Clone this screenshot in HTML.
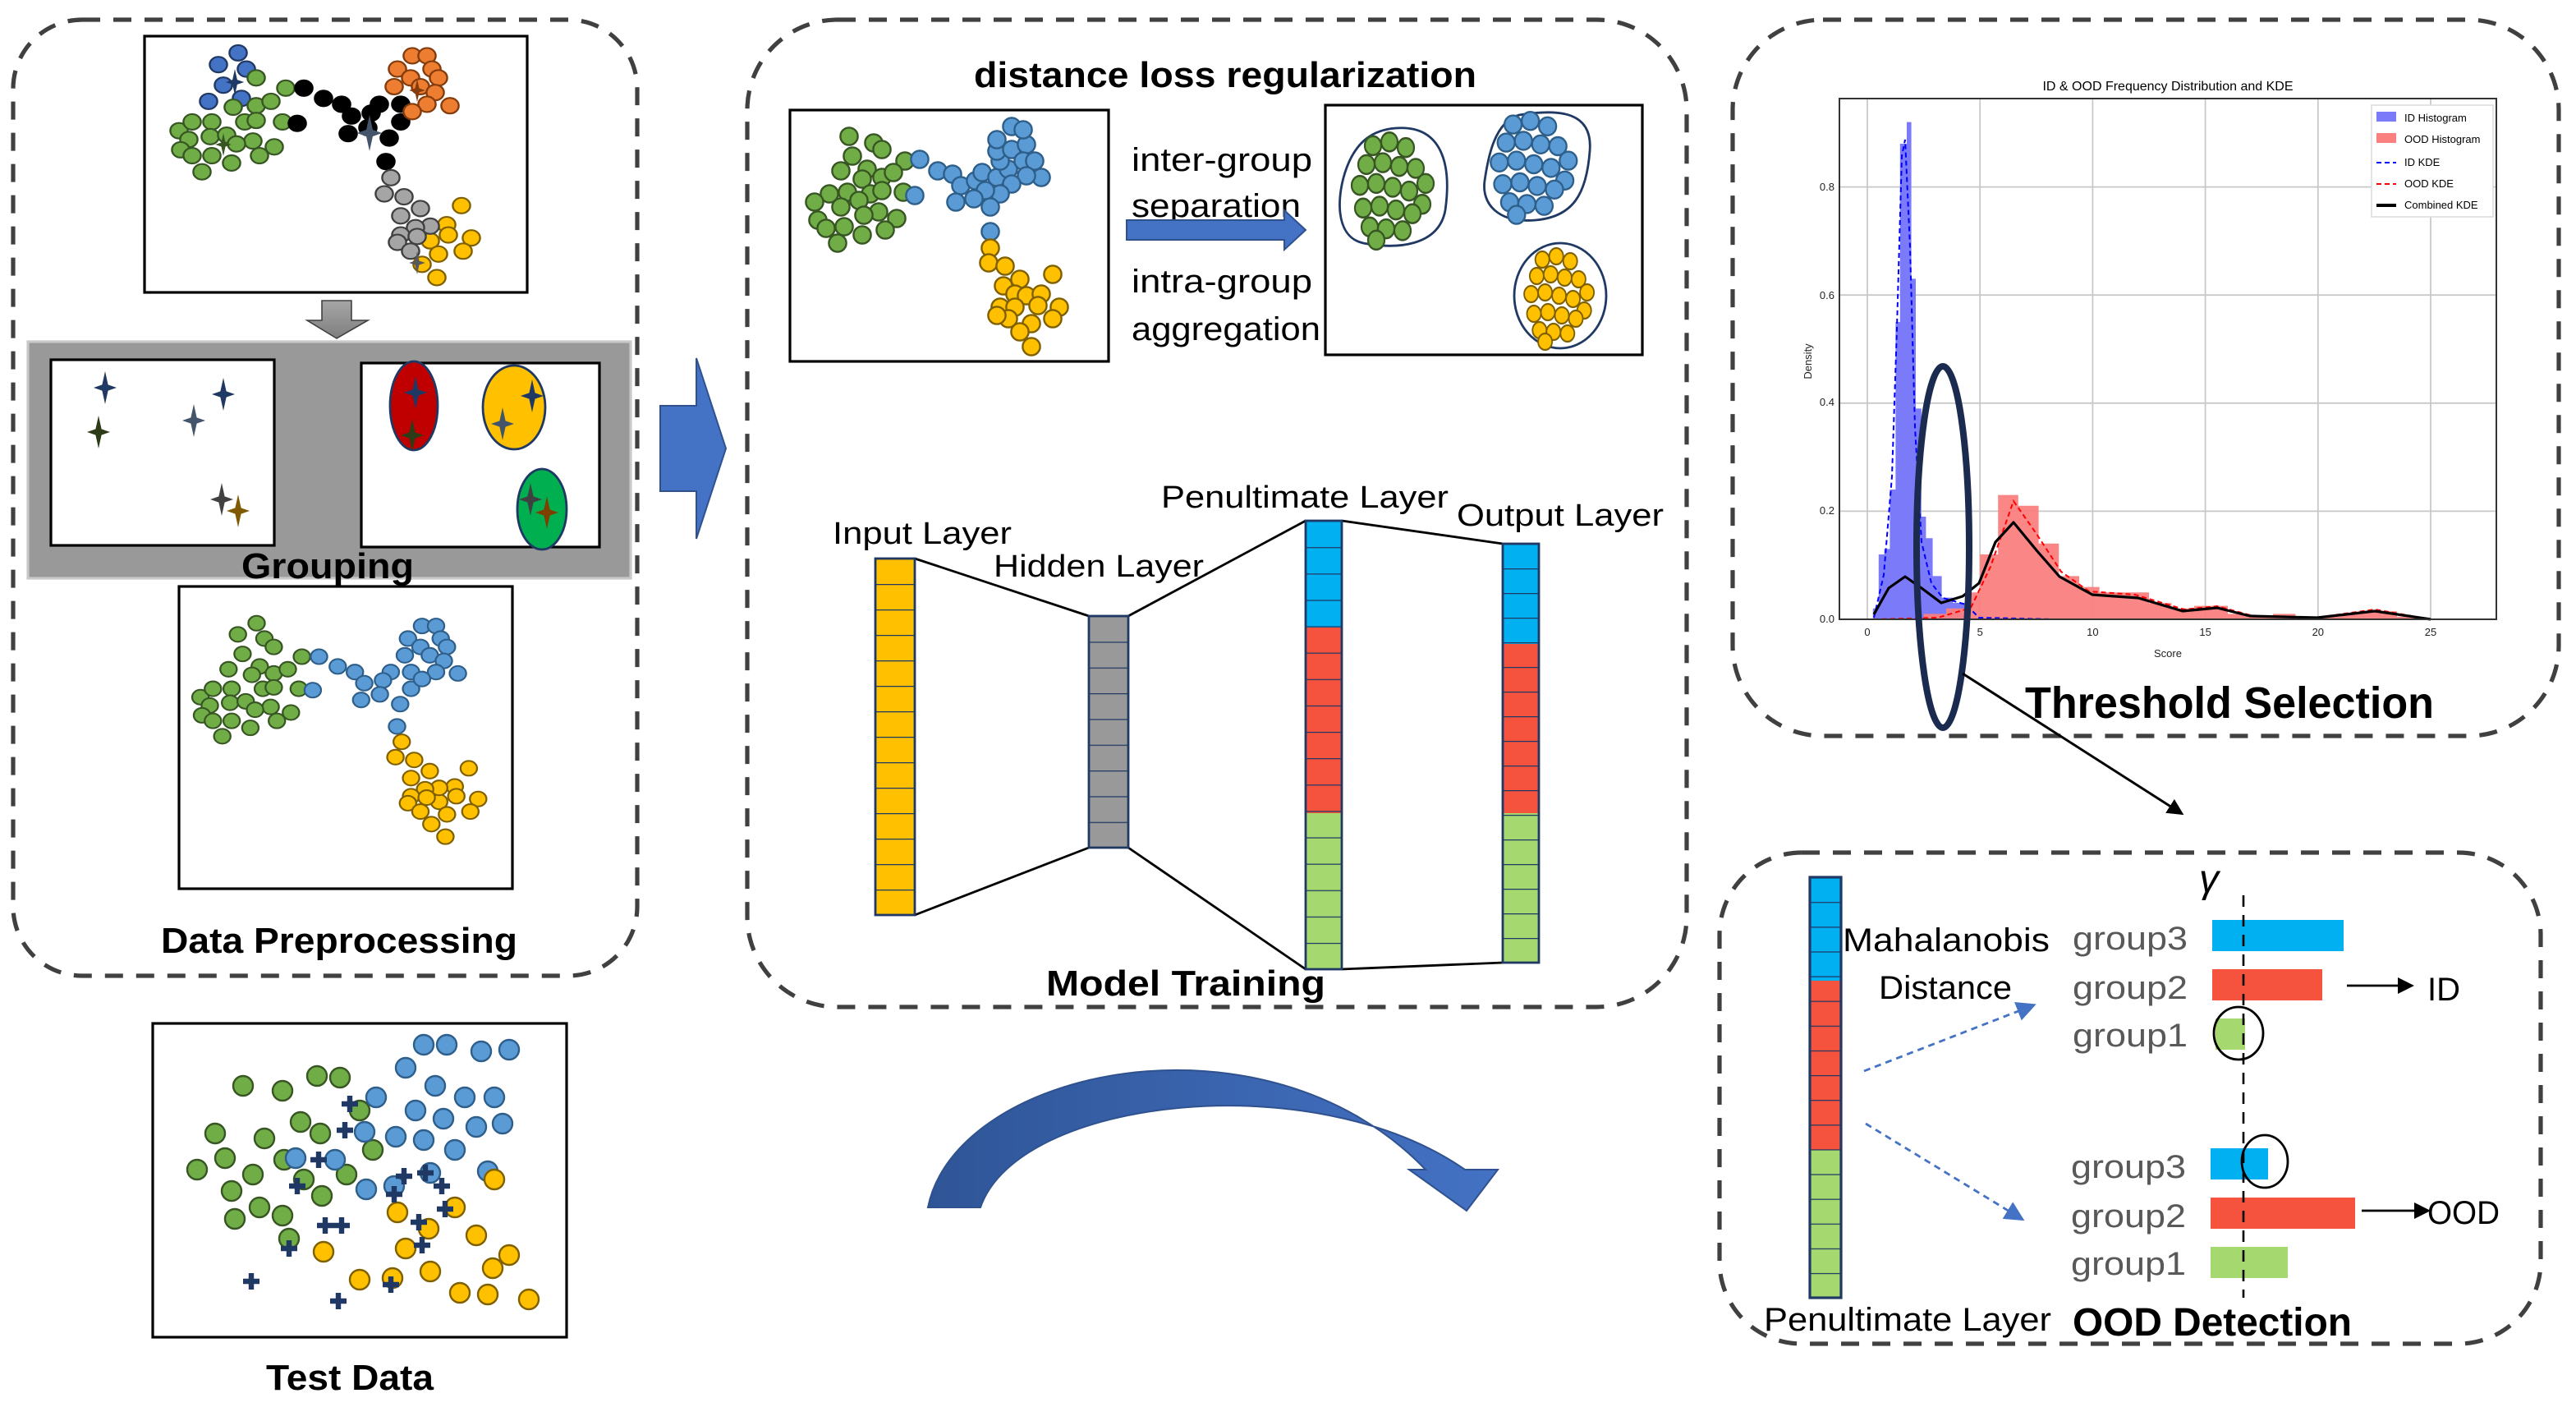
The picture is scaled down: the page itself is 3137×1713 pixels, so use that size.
<!DOCTYPE html>
<html><head><meta charset="utf-8"><style>
html,body{margin:0;padding:0;background:#fff}
svg{display:block}
text{font-family:"Liberation Sans",sans-serif}
.b{font-weight:bold}
</style></head><body>
<svg width="3137" height="1713" viewBox="0 0 1568.5 856.5" xmlns="http://www.w3.org/2000/svg">
<defs>
<linearGradient id="ga" x1="0" y1="0" x2="0" y2="1"><stop offset="0" stop-color="#a6a6a6"/><stop offset="1" stop-color="#7f7f7f"/></linearGradient>
<linearGradient id="gc" x1="0" y1="0" x2="1" y2="0"><stop offset="0" stop-color="#2f5597"/><stop offset="1" stop-color="#4472c4"/></linearGradient>
<path id="star" d="M0,-10 L1.8,-1.8 L7,0 L1.8,1.8 L0,10 L-1.8,1.8 L-7,0 L-1.8,-1.8Z"/>
<path id="cross" d="M-1.6,-5h3.2v3.4h3.4v3.2h-3.4v3.4h-3.2v-3.4h-3.4v-3.2h3.4z"/>
<pattern id="p1" patternUnits="userSpaceOnUse" x="0" y="340" width="50" height="15.5"><line x1="0" y1="0" x2="50" y2="0" stroke="#1f3864" stroke-width="1.2"/></pattern>
<pattern id="p2" patternUnits="userSpaceOnUse" x="0" y="375" width="50" height="15.67"><line x1="0" y1="0" x2="50" y2="0" stroke="#1f3864" stroke-width="1.2"/></pattern>
<pattern id="p3" patternUnits="userSpaceOnUse" x="0" y="317" width="50" height="16.06"><line x1="0" y1="0" x2="50" y2="0" stroke="#1f3864" stroke-width="1.2"/></pattern>
<pattern id="p4" patternUnits="userSpaceOnUse" x="0" y="331" width="50" height="15.0"><line x1="0" y1="0" x2="50" y2="0" stroke="#1f3864" stroke-width="1.2"/></pattern>
<pattern id="p5" patternUnits="userSpaceOnUse" x="0" y="534" width="50" height="15.06"><line x1="0" y1="0" x2="50" y2="0" stroke="#1f3864" stroke-width="1.2"/></pattern>
<marker id="ah" markerWidth="10" markerHeight="10" refX="8" refY="5" orient="auto" markerUnits="userSpaceOnUse"><path d="M0,0 L10,5 L0,10Z" fill="#000"/></marker>
<marker id="ahb" markerWidth="12" markerHeight="12" refX="10" refY="6" orient="auto" markerUnits="userSpaceOnUse"><path d="M0,0 L12,6 L0,12Z" fill="#4472c4"/></marker>

<g id="clu" stroke-width="1.2">
 <g transform="matrix(1,0,0,0.894,0,0)">
 <g style="fill:var(--cb);stroke:var(--sb)">
  <circle cx="145" cy="36" r="5.3"/><circle cx="133" cy="44" r="5.3"/><circle cx="150" cy="47" r="5.3"/><circle cx="136" cy="58" r="5.3"/><circle cx="127" cy="69" r="5.3"/><circle cx="147" cy="67" r="5.3"/>
 </g>
 <g style="fill:var(--cg);stroke:var(--sg)">
  <circle cx="156" cy="53" r="5.3"/><circle cx="174" cy="60" r="5.3"/><circle cx="142" cy="73" r="5.3"/><circle cx="156" cy="72" r="5.3"/><circle cx="165" cy="69" r="5.3"/><circle cx="109" cy="89" r="5.3"/><circle cx="117" cy="83" r="5.3"/><circle cx="129" cy="83" r="5.3"/><circle cx="149" cy="83" r="5.3"/><circle cx="156" cy="82" r="5.3"/><circle cx="172" cy="83" r="5.3"/><circle cx="128" cy="93" r="5.3"/><circle cx="115" cy="95" r="5.3"/><circle cx="138" cy="92" r="5.3"/><circle cx="154" cy="96" r="5.3"/><circle cx="144" cy="98" r="5.3"/><circle cx="167" cy="100" r="5.3"/><circle cx="110" cy="102" r="5.3"/><circle cx="117" cy="106" r="5.3"/><circle cx="129" cy="106" r="5.3"/><circle cx="141" cy="111" r="5.3"/><circle cx="158" cy="106" r="5.3"/><circle cx="123" cy="117" r="5.3"/>
 </g>
 <g style="fill:var(--ck);stroke:var(--sk)">
  <circle cx="185" cy="60" r="5.3"/><circle cx="197" cy="67" r="5.3"/><circle cx="208" cy="71" r="5.3"/><circle cx="231" cy="71" r="5.3"/><circle cx="244" cy="71" r="5.3"/><circle cx="214" cy="79" r="5.3"/><circle cx="226" cy="77" r="5.3"/><circle cx="244" cy="83" r="5.3"/><circle cx="212" cy="91" r="5.3"/><circle cx="224" cy="87" r="5.3"/><circle cx="237" cy="94" r="5.3"/><circle cx="181" cy="84" r="5.3"/><circle cx="235" cy="110" r="5.3"/>
 </g>
 <g style="fill:var(--co);stroke:var(--so)">
  <circle cx="251" cy="38" r="5.3"/><circle cx="260" cy="38" r="5.3"/><circle cx="242" cy="47" r="5.3"/><circle cx="263" cy="47" r="5.3"/><circle cx="267" cy="53" r="5.3"/><circle cx="250" cy="53" r="5.3"/><circle cx="240" cy="59" r="5.3"/><circle cx="256" cy="59" r="5.3"/><circle cx="265" cy="63" r="5.3"/><circle cx="274" cy="72" r="5.3"/><circle cx="260" cy="71" r="5.3"/><circle cx="251" cy="76" r="5.3"/>
 </g>
 <g style="fill:var(--cw);stroke:var(--sw)">
  <circle cx="281" cy="140" r="5.3"/><circle cx="272" cy="153" r="5.3"/><circle cx="273" cy="160" r="5.3"/><circle cx="287" cy="162" r="5.3"/><circle cx="262" cy="164" r="5.3"/><circle cx="282" cy="171" r="5.3"/><circle cx="267" cy="173" r="5.3"/><circle cx="257" cy="180" r="5.3"/><circle cx="266" cy="189" r="5.3"/>
 </g>
 <g style="fill:var(--cy);stroke:var(--sy)">
  <circle cx="238" cy="121" r="5.3"/><circle cx="234" cy="132" r="5.3"/><circle cx="246" cy="134" r="5.3"/><circle cx="256" cy="142" r="5.3"/><circle cx="244" cy="147" r="5.3"/><circle cx="262" cy="154" r="5.3"/><circle cx="253" cy="155" r="5.3"/><circle cx="244" cy="160" r="5.3"/><circle cx="254" cy="161" r="5.3"/><circle cx="242" cy="165" r="5.3"/><circle cx="250" cy="171" r="5.3"/>
 </g>
 </g>
</g>

<g id="blob" stroke-width="1.1">
 <circle cx="-14" cy="-22" r="5"/><circle cx="-4" cy="-24" r="5"/><circle cx="6" cy="-21" r="5"/><circle cx="-18" cy="-12" r="5"/><circle cx="-8" cy="-13" r="5"/><circle cx="2" cy="-11" r="5"/><circle cx="12" cy="-10" r="5"/><circle cx="18" cy="-2" r="5"/><circle cx="-22" cy="-1" r="5"/><circle cx="-12" cy="-2" r="5"/><circle cx="-2" cy="0" r="5"/><circle cx="8" cy="2" r="5"/><circle cx="16" cy="9" r="5"/><circle cx="-20" cy="11" r="5"/><circle cx="-10" cy="10" r="5"/><circle cx="0" cy="12" r="5"/><circle cx="10" cy="14" r="5"/><circle cx="-16" cy="21" r="5"/><circle cx="-6" cy="22" r="5"/><circle cx="4" cy="23" r="5"/><circle cx="-12" cy="28" r="5"/>
</g>
</defs>

<!-- ===== Panel 1 ===== -->
<rect x="8" y="12" width="380" height="582" rx="42" fill="none" stroke="#404040" stroke-width="2.6" stroke-dasharray="11 8"/>
<rect x="88" y="22" width="233" height="156" fill="#fff" stroke="#000" stroke-width="1.6"/>
<use href="#clu" style="--cb:#4472c4;--sb:#203864;--cg:#70ad47;--sg:#375623;--ck:#000;--sk:#000;--co:#ed7d31;--so:#843c0c;--cw:#ffc000;--sw:#7f6000;--cy:#a5a5a5;--sy:#404040"/>
<use href="#star" transform="translate(143,50) scale(0.8)" fill="#203864"/>
<use href="#star" transform="translate(225,81) scale(1.1)" fill="#44546a"/>
<use href="#star" transform="translate(136,88) scale(0.7)" fill="#375623"/>
<use href="#star" transform="translate(254,55) scale(0.7)" fill="#843c0c"/>
<use href="#star" transform="translate(254,160) scale(0.7)" fill="#595959"/>
<path d="M196,183 H214 V195 H224 L205,206 L187,195 H196Z" fill="url(#ga)" stroke="#404040" stroke-width="0.8"/>
<rect x="17" y="208" width="367" height="144" fill="#999" stroke="#c8c8c8" stroke-width="1.6"/>
<rect x="31" y="219" width="136" height="113" fill="#fff" stroke="#000" stroke-width="1.6"/>
<rect x="220" y="221" width="145" height="112" fill="#fff" stroke="#000" stroke-width="1.6"/>
<use href="#star" transform="translate(64,236)" fill="#1f3864"/>
<use href="#star" transform="translate(60,263)" fill="#2d3b17"/>
<use href="#star" transform="translate(136,240)" fill="#1f3864"/>
<use href="#star" transform="translate(118,256)" fill="#44546a"/>
<use href="#star" transform="translate(135,304)" fill="#404040"/>
<use href="#star" transform="translate(145,311)" fill="#7f5a00"/>
<ellipse cx="252" cy="247" rx="14.5" ry="27" fill="#c00000" stroke="#1f3864" stroke-width="1.4"/>
<ellipse cx="313" cy="248" rx="19" ry="25.5" fill="#ffc000" stroke="#1f3864" stroke-width="1.4"/>
<ellipse cx="330" cy="310" rx="15" ry="24.5" fill="#00b050" stroke="#1f3864" stroke-width="1.4"/>
<use href="#star" transform="translate(253,239)" fill="#1f3864"/>
<use href="#star" transform="translate(251,265)" fill="#2d3b17"/>
<use href="#star" transform="translate(324,241)" fill="#1f3864"/>
<use href="#star" transform="translate(306,258)" fill="#44546a"/>
<use href="#star" transform="translate(323,304)" fill="#404040"/>
<use href="#star" transform="translate(333,312)" fill="#7f3f00"/>
<text x="147" y="352" font-size="22" class="b" textLength="105" lengthAdjust="spacingAndGlyphs">Grouping</text>
<path d="M190,362 H208 V373 H217 L199,384 L181,373 H190Z" fill="url(#ga)" stroke="#404040" stroke-width="0.8"/>
<rect x="109" y="357" width="203" height="184" fill="#fff" stroke="#000" stroke-width="1.6"/>
<use href="#clu" transform="translate(18.5,348.8) scale(0.95)" style="--cb:#70ad47;--sb:#375623;--cg:#70ad47;--sg:#375623;--ck:#5b9bd5;--sk:#2e5f8a;--co:#5b9bd5;--so:#2e5f8a;--cw:#ffc000;--sw:#7f6000;--cy:#ffc000;--sy:#7f6000"/>
<text x="98" y="580" font-size="22" class="b" textLength="217" lengthAdjust="spacingAndGlyphs">Data Preprocessing</text>

<!-- Test data -->
<rect x="93" y="623" width="252" height="191" fill="#fff" stroke="#000" stroke-width="1.6"/>
<g fill="#70ad47" stroke="#375623" stroke-width="1.2">
<circle cx="148" cy="661" r="6"/><circle cx="172" cy="664" r="6"/><circle cx="193" cy="655" r="6"/><circle cx="207" cy="656" r="6"/><circle cx="131" cy="690" r="6"/><circle cx="161" cy="693" r="6"/><circle cx="183" cy="683" r="6"/><circle cx="195" cy="690" r="6"/><circle cx="137" cy="705" r="6"/><circle cx="154" cy="715" r="6"/><circle cx="173" cy="706" r="6"/><circle cx="120" cy="712" r="6"/><circle cx="141" cy="725" r="6"/><circle cx="158" cy="735" r="6"/><circle cx="185" cy="718" r="6"/><circle cx="196" cy="728" r="6"/><circle cx="172" cy="740" r="6"/><circle cx="143" cy="742" r="6"/><circle cx="219" cy="676" r="6"/><circle cx="227" cy="700" r="6"/><circle cx="211" cy="715" r="6"/><circle cx="176" cy="754" r="6"/>
</g>
<g fill="#5b9bd5" stroke="#2e5f8a" stroke-width="1.2">
<circle cx="258" cy="636" r="6"/><circle cx="272" cy="636" r="6"/><circle cx="293" cy="640" r="6"/><circle cx="310" cy="639" r="6"/><circle cx="247" cy="650" r="6"/><circle cx="265" cy="661" r="6"/><circle cx="283" cy="668" r="6"/><circle cx="301" cy="668" r="6"/><circle cx="229" cy="668" r="6"/><circle cx="253" cy="676" r="6"/><circle cx="270" cy="681" r="6"/><circle cx="290" cy="686" r="6"/><circle cx="306" cy="684" r="6"/><circle cx="222" cy="689" r="6"/><circle cx="241" cy="692" r="6"/><circle cx="258" cy="694" r="6"/><circle cx="277" cy="700" r="6"/><circle cx="297" cy="713" r="6"/><circle cx="204" cy="706" r="6"/><circle cx="223" cy="724" r="6"/><circle cx="240" cy="722" r="6"/><circle cx="180" cy="705" r="6"/><circle cx="262" cy="714" r="6"/>
</g>
<g fill="#ffc000" stroke="#7f6000" stroke-width="1.2">
<circle cx="301" cy="718" r="6"/><circle cx="242" cy="738" r="6"/><circle cx="277" cy="735" r="6"/><circle cx="261" cy="748" r="6"/><circle cx="290" cy="752" r="6"/><circle cx="310" cy="764" r="6"/><circle cx="197" cy="762" r="6"/><circle cx="239" cy="778" r="6"/><circle cx="262" cy="774" r="6"/><circle cx="280" cy="787" r="6"/><circle cx="297" cy="788" r="6"/><circle cx="322" cy="791" r="6"/><circle cx="219" cy="779" r="6"/><circle cx="300" cy="772" r="6"/><circle cx="247" cy="760" r="6"/>
</g>
<g fill="#203864">
<use href="#cross" x="210" y="688"/><use href="#cross" x="213" y="672"/><use href="#cross" x="194" y="706"/><use href="#cross" x="181" y="722"/><use href="#cross" x="198" y="746"/><use href="#cross" x="208" y="746"/><use href="#cross" x="176" y="760"/><use href="#cross" x="246" y="716"/><use href="#cross" x="259" y="714"/><use href="#cross" x="269" y="722"/><use href="#cross" x="255" y="744"/><use href="#cross" x="271" y="736"/><use href="#cross" x="257" y="758"/><use href="#cross" x="153" y="780"/><use href="#cross" x="206" y="792"/><use href="#cross" x="238" y="782"/><use href="#cross" x="240" y="727"/>
</g>
<text x="162" y="846" font-size="22" class="b" textLength="102" lengthAdjust="spacingAndGlyphs">Test Data</text>

<path d="M402,247 H424 V218 L442,273 L424,328 V299 H402Z" fill="#4472c4" stroke="#2f528f" stroke-width="1"/>

<!-- ===== Panel 2 ===== -->
<rect x="455" y="12" width="572" height="601" rx="55" fill="none" stroke="#404040" stroke-width="2.6" stroke-dasharray="11 8"/>
<text x="593" y="53" font-size="22" class="b" textLength="306" lengthAdjust="spacingAndGlyphs">distance loss regularization</text>
<rect x="481" y="67" width="194" height="153" fill="#fff" stroke="#000" stroke-width="1.6"/>
<g fill="#70ad47" stroke="#375623" stroke-width="1.2">
<circle cx="517" cy="83" r="5.3"/><circle cx="532" cy="87" r="5.3"/><circle cx="519" cy="95" r="5.3"/><circle cx="537" cy="91" r="5.3"/><circle cx="551" cy="98" r="5.3"/><circle cx="512" cy="104" r="5.3"/><circle cx="528" cy="103" r="5.3"/><circle cx="537" cy="108" r="5.3"/><circle cx="544" cy="105" r="5.3"/><circle cx="525" cy="109" r="5.3"/><circle cx="505" cy="118" r="5.3"/><circle cx="516" cy="117" r="5.3"/><circle cx="530" cy="118" r="5.3"/><circle cx="537" cy="116" r="5.3"/><circle cx="496" cy="123" r="5.3"/><circle cx="512" cy="126" r="5.3"/><circle cx="523" cy="122" r="5.3"/><circle cx="535" cy="129" r="5.3"/><circle cx="498" cy="134" r="5.3"/><circle cx="514" cy="138" r="5.3"/><circle cx="526" cy="131" r="5.3"/><circle cx="546" cy="133" r="5.3"/><circle cx="503" cy="139" r="5.3"/><circle cx="525" cy="143" r="5.3"/><circle cx="539" cy="140" r="5.3"/><circle cx="510" cy="148" r="5.3"/><circle cx="550" cy="117" r="5.3"/>
</g>
<g fill="#5b9bd5" stroke="#2e5f8a" stroke-width="1.2">
<circle cx="560" cy="97" r="5.3"/><circle cx="571" cy="104" r="5.3"/><circle cx="580" cy="106" r="5.3"/><circle cx="585" cy="113" r="5.3"/><circle cx="594" cy="110" r="5.3"/><circle cx="598" cy="105" r="5.3"/><circle cx="607" cy="108" r="5.3"/><circle cx="614" cy="103" r="5.3"/><circle cx="609" cy="98" r="5.3"/><circle cx="607" cy="92" r="5.3"/><circle cx="616" cy="91" r="5.3"/><circle cx="625" cy="88" r="5.3"/><circle cx="623" cy="98" r="5.3"/><circle cx="630" cy="98" r="5.3"/><circle cx="634" cy="108" r="5.3"/><circle cx="625" cy="107" r="5.3"/><circle cx="616" cy="112" r="5.3"/><circle cx="609" cy="118" r="5.3"/><circle cx="600" cy="116" r="5.3"/><circle cx="593" cy="121" r="5.3"/><circle cx="582" cy="123" r="5.3"/><circle cx="603" cy="126" r="5.3"/><circle cx="616" cy="77" r="5.3"/><circle cx="623" cy="79" r="5.3"/><circle cx="607" cy="85" r="5.3"/><circle cx="557" cy="119" r="5.3"/><circle cx="603" cy="141" r="5.3"/>
</g>
<g fill="#ffc000" stroke="#7f6000" stroke-width="1.2">
<circle cx="603" cy="151" r="5.3"/><circle cx="602" cy="160" r="5.3"/><circle cx="612" cy="162" r="5.3"/><circle cx="621" cy="170" r="5.3"/><circle cx="641" cy="167" r="5.3"/><circle cx="611" cy="174" r="5.3"/><circle cx="618" cy="179" r="5.3"/><circle cx="625" cy="180" r="5.3"/><circle cx="634" cy="179" r="5.3"/><circle cx="609" cy="187" r="5.3"/><circle cx="618" cy="187" r="5.3"/><circle cx="632" cy="186" r="5.3"/><circle cx="645" cy="187" r="5.3"/><circle cx="614" cy="194" r="5.3"/><circle cx="628" cy="197" r="5.3"/><circle cx="641" cy="194" r="5.3"/><circle cx="621" cy="202" r="5.3"/><circle cx="628" cy="211" r="5.3"/><circle cx="607" cy="192" r="5.3"/>
</g>
<text x="689" y="104" font-size="20" textLength="110" lengthAdjust="spacingAndGlyphs">inter-group</text>
<text x="689" y="132" font-size="20" textLength="103" lengthAdjust="spacingAndGlyphs">separation</text>
<path d="M686,134 H782 V128 L795,140 L782,152 V146 H686Z" fill="#4472c4" stroke="#2f528f" stroke-width="1"/>
<text x="689" y="178" font-size="20" textLength="110" lengthAdjust="spacingAndGlyphs">intra-group</text>
<text x="689" y="207" font-size="20" textLength="115" lengthAdjust="spacingAndGlyphs">aggregation</text>
<rect x="807" y="64" width="193" height="152" fill="#fff" stroke="#000" stroke-width="1.6"/>
<path d="M850,78 C878,76 884,100 880,128 C876,150 850,152 830,148 C812,144 814,118 820,102 C826,86 836,79 850,78Z" fill="none" stroke="#1f3864" stroke-width="1.4"/>
<path d="M925,70 C950,66 970,68 968,92 C966,118 958,132 935,134 C912,136 902,124 904,110 C906,96 910,74 925,70Z" fill="none" stroke="#1f3864" stroke-width="1.4"/>
<ellipse cx="950" cy="180" rx="28" ry="32" fill="none" stroke="#1f3864" stroke-width="1.4"/>
<use href="#blob" transform="translate(850,114) scale(1,1.15)" fill="#70ad47" stroke="#375623"/>
<use href="#blob" transform="translate(936,100) scale(1.05,1.1)" fill="#5b9bd5" stroke="#2e5f8a"/>
<use href="#blob" transform="translate(951,180) scale(0.85,1)" fill="#ffc000" stroke="#7f6000"/>

<g stroke="#000" stroke-width="1.4" fill="none">
<line x1="557" y1="340" x2="663" y2="375"/><line x1="557" y1="557" x2="663" y2="516"/>
<line x1="687" y1="375" x2="795" y2="317"/><line x1="687" y1="516" x2="795" y2="590"/>
<line x1="817" y1="317" x2="915" y2="331"/><line x1="817" y1="590" x2="915" y2="586"/>
</g>
<rect x="533" y="340" width="24" height="217" fill="#ffc000"/>
<rect x="533" y="340" width="24" height="217" fill="url(#p1)" stroke="#1f3864" stroke-width="1.4"/>
<rect x="663" y="375" width="24" height="141" fill="#999"/>
<rect x="663" y="375" width="24" height="141" fill="url(#p2)" stroke="#1f3864" stroke-width="1.4"/>
<rect x="795" y="317" width="22" height="65" fill="#00b0f0"/>
<rect x="795" y="382" width="22" height="113" fill="#f5533d"/>
<rect x="795" y="495" width="22" height="95" fill="#a5d86e"/>
<rect x="795" y="317" width="22" height="273" fill="url(#p3)" stroke="#1f3864" stroke-width="1.4"/>
<rect x="915" y="331" width="22" height="61" fill="#00b0f0"/>
<rect x="915" y="392" width="22" height="103" fill="#f5533d"/>
<rect x="915" y="495" width="22" height="91" fill="#a5d86e"/>
<rect x="915" y="331" width="22" height="255" fill="url(#p4)" stroke="#1f3864" stroke-width="1.4"/>
<text x="507" y="331" font-size="19" textLength="109" lengthAdjust="spacingAndGlyphs">Input Layer</text>
<text x="605" y="351" font-size="19" textLength="128" lengthAdjust="spacingAndGlyphs">Hidden Layer</text>
<text x="707" y="309" font-size="19" textLength="175" lengthAdjust="spacingAndGlyphs">Penultimate Layer</text>
<text x="887" y="320" font-size="19" textLength="126" lengthAdjust="spacingAndGlyphs">Output Layer</text>
<text x="637" y="606" font-size="22" class="b" textLength="170" lengthAdjust="spacingAndGlyphs">Model Training</text>

<!-- curved arrow -->
<path d="M565,735 C582,650 770,610 868,712 L858,712 L893,737 L912,712 L892,712 C800,648 620,668 597,735Z" fill="url(#gc)" stroke="#2f528f" stroke-width="1"/>

<!-- ===== Panel 3 ===== -->
<rect x="1055" y="12" width="503" height="436" rx="55" fill="none" stroke="#404040" stroke-width="2.6" stroke-dasharray="11 8"/>
<text x="1320" y="55" font-size="8" text-anchor="middle">ID &amp; OOD Frequency Distribution and KDE</text>
<g stroke="#c8c8c8" stroke-width="0.9">
<line x1="1137" y1="60" x2="1137" y2="377"/><line x1="1205.6" y1="60" x2="1205.6" y2="377"/><line x1="1274.2" y1="60" x2="1274.2" y2="377"/><line x1="1342.8" y1="60" x2="1342.8" y2="377"/><line x1="1411.4" y1="60" x2="1411.4" y2="377"/><line x1="1480" y1="60" x2="1480" y2="377"/>
<line x1="1120" y1="311.2" x2="1520" y2="311.2"/><line x1="1120" y1="245.4" x2="1520" y2="245.4"/><line x1="1120" y1="179.6" x2="1520" y2="179.6"/><line x1="1120" y1="113.8" x2="1520" y2="113.8"/>
</g>
<path d="M1140.4,377 V370.4 H1143.9 V337.5 H1147.3 V334.2 H1150.7 V298 H1154.2 V196 H1156.9 V87.5 H1161 V74.3 H1163.8 V169.7 H1166.5 V248.7 H1169.9 V314.5 H1172.7 V327.6 H1176.8 V350.7 H1182.3 V363.8 H1189.1 V367 H1200.1 V377 Z" fill="#7b7bfa"/>
<path d="M1171.3,377 V373.7 H1185 V370.4 H1198.7 V360.6 H1205.6 V337.5 H1216.6 V301.3 H1228.9 V307.9 H1241.3 V330.9 H1253.6 V350.7 H1266 V357.3 H1278.3 V360.6 H1308.5 V367.1 H1322.2 V370.4 H1336 V368.8 H1356.5 V373.7 H1370.2 V375.4 H1384 V373.7 H1397.7 V375.4 H1425.1 V373.7 H1438.8 V372.1 H1459.4 V375.4 H1473.1 V377Z" fill="#fa7f7f" fill-opacity="0.95"/>
<polyline points="1141,376 1147,350 1152,290 1155,200 1158,95 1160,85 1163,150 1166,260 1170,330 1176,355 1183,364 1190,366 1197,368 1205,376 1250,377 1480,377" fill="none" stroke="#0000ff" stroke-width="1" stroke-dasharray="3 2"/>
<polyline points="1141,377 1180,376 1200,370 1212,345 1226,305 1240,325 1255,348 1272,360 1300,362 1330,371 1350,369 1372,375 1410,376 1446,371 1480,377" fill="none" stroke="#ff0000" stroke-width="1" stroke-dasharray="3 2"/>
<polyline points="1141,374 1150,358 1160,351 1170,358 1182,367 1195,363 1205,355 1215,330 1226,318 1240,335 1254,351 1274,362 1302,364 1329,372 1350,370 1370,375 1411,376 1446,372 1480,377" fill="none" stroke="#000" stroke-width="1.6" stroke-linejoin="round"/>
<rect x="1120" y="60" width="400" height="317" fill="none" stroke="#333" stroke-width="1"/>
<g font-size="6.5" fill="#222">
<text x="1137" y="387" text-anchor="middle">0</text><text x="1205.6" y="387" text-anchor="middle">5</text><text x="1274.2" y="387" text-anchor="middle">10</text><text x="1342.8" y="387" text-anchor="middle">15</text><text x="1411.4" y="387" text-anchor="middle">20</text><text x="1480" y="387" text-anchor="middle">25</text>
<text x="1117" y="379" text-anchor="end">0.0</text><text x="1117" y="313" text-anchor="end">0.2</text><text x="1117" y="247" text-anchor="end">0.4</text><text x="1117" y="182" text-anchor="end">0.6</text><text x="1117" y="116" text-anchor="end">0.8</text>
<text x="1320" y="400" text-anchor="middle">Score</text>
<text transform="translate(1103,220) rotate(-90)" text-anchor="middle">Density</text>
</g>
<rect x="1444" y="64" width="74" height="68" fill="#fff" stroke="#ddd" stroke-width="0.8"/>
<rect x="1447" y="68" width="12" height="6" fill="#7b7bfa"/><rect x="1447" y="81" width="12" height="6" fill="#fa7f7f"/>
<line x1="1447" y1="99" x2="1459" y2="99" stroke="#00f" stroke-dasharray="3 2"/><line x1="1447" y1="112" x2="1459" y2="112" stroke="#f00" stroke-dasharray="3 2"/><line x1="1447" y1="125" x2="1459" y2="125" stroke="#000" stroke-width="2"/>
<g font-size="6.5"><text x="1464" y="74">ID Histogram</text><text x="1464" y="87">OOD Histogram</text><text x="1464" y="101">ID KDE</text><text x="1464" y="114">OOD KDE</text><text x="1464" y="127">Combined KDE</text></g>
<ellipse cx="1183" cy="333" rx="16" ry="110" fill="none" stroke="#1a2b4f" stroke-width="4"/>
<text x="1233" y="437" font-size="27" class="b" textLength="249" lengthAdjust="spacingAndGlyphs">Threshold Selection</text>
<line x1="1195" y1="410" x2="1328" y2="495" stroke="#000" stroke-width="1.5" marker-end="url(#ah)"/>

<!-- ===== Panel 4 ===== -->
<rect x="1047" y="519" width="500" height="299" rx="50" fill="none" stroke="#404040" stroke-width="2.6" stroke-dasharray="11 8"/>
<rect x="1102" y="534" width="19" height="63" fill="#00b0f0"/>
<rect x="1102" y="597" width="19" height="103" fill="#f5533d"/>
<rect x="1102" y="700" width="19" height="90" fill="#a5d86e"/>
<rect x="1102" y="534" width="19" height="256" fill="url(#p5)" stroke="#1f3864" stroke-width="1.6"/>
<text x="1122" y="579" font-size="20" textLength="126" lengthAdjust="spacingAndGlyphs">Mahalanobis</text>
<text x="1144" y="608" font-size="20" textLength="81" lengthAdjust="spacingAndGlyphs">Distance</text>
<line x1="1135" y1="652" x2="1238" y2="612" stroke="#4472c4" stroke-width="1.4" stroke-dasharray="4 3" marker-end="url(#ahb)"/>
<line x1="1136" y1="684" x2="1231" y2="742" stroke="#4472c4" stroke-width="1.4" stroke-dasharray="4 3" marker-end="url(#ahb)"/>
<g font-size="20" fill="#595959">
<text x="1262" y="578" textLength="70" lengthAdjust="spacingAndGlyphs">group3</text>
<text x="1262" y="608" textLength="70" lengthAdjust="spacingAndGlyphs">group2</text>
<text x="1262" y="637" textLength="70" lengthAdjust="spacingAndGlyphs">group1</text>
<text x="1261" y="717" textLength="70" lengthAdjust="spacingAndGlyphs">group3</text>
<text x="1261" y="747" textLength="70" lengthAdjust="spacingAndGlyphs">group2</text>
<text x="1261" y="776" textLength="70" lengthAdjust="spacingAndGlyphs">group1</text>
</g>
<rect x="1347" y="560" width="80" height="19" fill="#00b0f0"/>
<rect x="1347" y="590" width="67" height="19" fill="#f5533d"/>
<rect x="1349" y="620" width="18" height="19" fill="#a5d86e"/>
<rect x="1346" y="699" width="35" height="19" fill="#00b0f0"/>
<rect x="1346" y="729" width="88" height="19" fill="#f5533d"/>
<rect x="1346" y="759" width="47" height="19" fill="#a5d86e"/>
<line x1="1366" y1="545" x2="1366" y2="790" stroke="#000" stroke-width="1.3" stroke-dasharray="7 5"/>
<ellipse cx="1363" cy="629" rx="15" ry="16" fill="none" stroke="#000" stroke-width="1.4"/>
<ellipse cx="1379" cy="707" rx="14" ry="16" fill="none" stroke="#000" stroke-width="1.4"/>
<text x="1339" y="543" font-size="24" font-style="italic" font-family="Liberation Serif, serif">γ</text>
<line x1="1429" y1="600" x2="1468" y2="600" stroke="#000" stroke-width="1.4" marker-end="url(#ah)"/>
<text x="1478" y="609" font-size="20">ID</text>
<line x1="1438" y1="737" x2="1478" y2="737" stroke="#000" stroke-width="1.4" marker-end="url(#ah)"/>
<text x="1478" y="745" font-size="20" textLength="44" lengthAdjust="spacingAndGlyphs">OOD</text>
<text x="1074" y="810" font-size="20" textLength="175" lengthAdjust="spacingAndGlyphs">Penultimate Layer</text>
<text x="1262" y="813" font-size="24" class="b" textLength="170" lengthAdjust="spacingAndGlyphs">OOD Detection</text>
</svg>
</body></html>
